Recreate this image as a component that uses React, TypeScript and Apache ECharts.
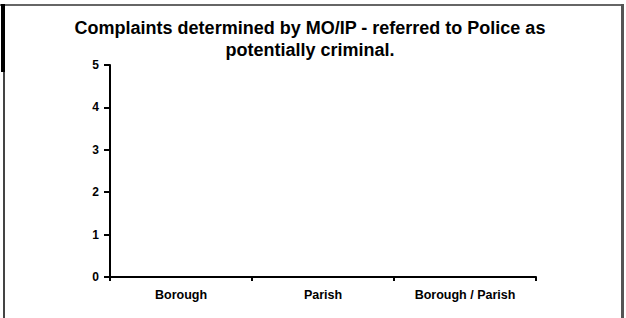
import React, { useEffect, useRef } from "react";
import * as echarts from "echarts";

const titleText = "Complaints determined by MO/IP - referred to Police as\npotentially criminal.";
const categories = ["Borough", "Parish", "Borough / Parish"];
const values = [0, 0, 0];
const yMin = 0;
const yMax = 5;
const yInterval = 1;

const FONT = "'Liberation Sans', Arial, sans-serif";

export default function App() {
  const ref = useRef<HTMLDivElement>(null);
  useEffect(() => {
    if (!ref.current) return;
    const chart = echarts.init(ref.current, undefined, { renderer: "svg" });
    chart.setOption({
      animation: false,
      backgroundColor: "#ffffff",
      title: {
        text: titleText,
        left: 305,
        top: 12,
        textAlign: "center",
        textStyle: {
          fontFamily: FONT,
          fontWeight: "bold",
          fontSize: 18,
          lineHeight: 22,
          color: "#000",
        },
      },
      grid: { left: 110, right: 90, top: 65, bottom: 41, containLabel: false },
      xAxis: {
        type: "category",
        data: categories,
        boundaryGap: true,
        axisLine: { show: true, lineStyle: { color: "#000", width: 2 } },
        axisTick: { show: true, length: 4, alignWithLabel: false, lineStyle: { color: "#000", width: 2 } },
        axisLabel: { fontFamily: FONT, fontWeight: "bold", fontSize: 12.5, color: "#000", margin: 11 },
        splitLine: { show: false },
      },
      yAxis: {
        type: "value",
        min: yMin,
        max: yMax,
        interval: yInterval,
        axisLine: { show: true, lineStyle: { color: "#000", width: 2 } },
        axisTick: { show: true, length: 6, lineStyle: { color: "#000", width: 2 } },
        axisLabel: { fontFamily: FONT, fontWeight: "bold", fontSize: 12, color: "#000", margin: 11 },
        splitLine: { show: false },
      },
      series: [
        {
          type: "bar",
          data: values,
          itemStyle: { color: "#9999ff" },
          barWidth: "50%",
        },
      ],
      graphic: [
        { type: "rect", shape: { x: 0, y: 4, width: 624, height: 2 }, style: { fill: "#666" } },
        { type: "rect", shape: { x: 621, y: 4, width: 3, height: 314 }, style: { fill: "#555" } },
        { type: "rect", shape: { x: 1, y: 4, width: 4, height: 68 }, style: { fill: "#000" } },
        { type: "rect", shape: { x: 3, y: 72, width: 2, height: 246 }, style: { fill: "#444" } },
      ],
    });
    return () => chart.dispose();
  }, []);
  return (
    <div
      ref={ref}
      style={{ position: "fixed", left: 0, top: 0, width: 626, height: 318 }}
    />
  );
}
